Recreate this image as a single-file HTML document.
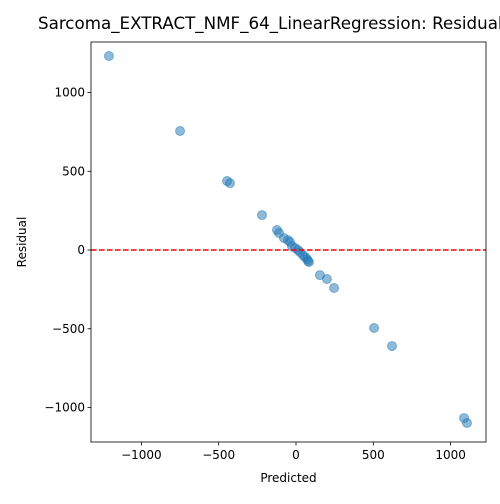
<!DOCTYPE html>
<html><head><meta charset="utf-8"><style>
body{margin:0;background:#fff;font-family:"DejaVu Sans","Liberation Sans",sans-serif;overflow:hidden}
</style></head><body>
<svg id="c" width="500" height="500" xmlns="http://www.w3.org/2000/svg" font-family="DejaVu Sans, Liberation Sans, sans-serif"></svg>
<script>
const predicted=[-1210,-750,-446,-427,-220,-123,-110,-78,-52,-39,-26,-6,13,26,45,58,71,78,84,155,200,246,505,621,1087,1106];
const residual=[1232,756,438,425,222,127,108,76,63,51,25,13,0,-13,-32,-44,-57,-70,-76,-159,-184,-241,-495,-610,-1067,-1098];
const xTicks=[-1000,-500,0,500,1000];
const yTicks=[-1000,-500,0,500,1000];
const L=91,R=486,T=42,B=442,x0=-1326,x1=1229,y0=-1219,y1=1321;
const X=v=>L+(v-x0)/(x1-x0)*(R-L), Y=v=>B-(v-y0)/(y1-y0)*(B-T);
const s=document.getElementById('c'),NS='http://www.w3.org/2000/svg';
function mk(t,a,p){const e=document.createElementNS(NS,t);for(const k in a)e.setAttribute(k,a[k]);(p||s).appendChild(e);return e;}
const fmt=v=>v<0?'\u2212'+(-v):''+v;
const title=mk('text',{x:38,y:29,'text-anchor':'start','font-size':16.7});title.textContent='Sarcoma_EXTRACT_NMF_64_LinearRegression: Residuals';


const pts=mk('g',{});


predicted.forEach((p,i)=>{const c=mk('circle',{cx:X(p),cy:Y(residual[i]),r:4.5,fill:'#1f77b4','fill-opacity':0.5,stroke:'#1f77b4','stroke-opacity':0.5},pts);

});
const zl=mk('line',{x1:L,x2:R,y1:Y(0),y2:Y(0),stroke:'red','stroke-width':1.5,'stroke-dasharray':'5.5,2.5'});


const fr=mk('rect',{x:L,y:T,width:R-L,height:B-T,fill:'none',stroke:'#000','stroke-width':0.8});


xTicks.forEach(v=>{mk('line',{x1:X(v),x2:X(v),y1:B,y2:B+3.5,stroke:'#000','stroke-width':0.8});
const t=mk('text',{x:X(v),y:B+17,'text-anchor':'middle','font-size':12});t.textContent=fmt(v);

});
yTicks.forEach(v=>{mk('line',{x1:L-3.5,x2:L,y1:Y(v),y2:Y(v),stroke:'#000','stroke-width':0.8});
const t=mk('text',{x:L-6,y:Y(v)+4,'text-anchor':'end','font-size':12});t.textContent=fmt(v);

});
const xt=mk('text',{x:(L+R)/2,y:482,'text-anchor':'middle','font-size':12});xt.textContent='Predicted';


const yt=mk('text',{x:26,y:(T+B)/2,'text-anchor':'middle','font-size':12,transform:`rotate(-90 26 ${(T+B)/2})`});yt.textContent='Residual';


</script>
</body></html>
